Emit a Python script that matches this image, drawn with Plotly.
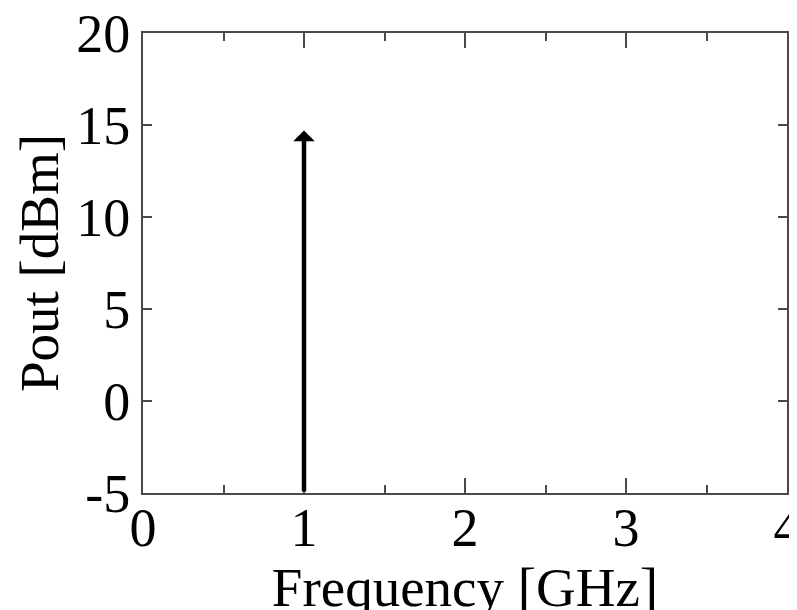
import plotly.graph_objects as go

# Data
freq_ghz = [1.0]          # tone frequency [GHz]
pout_dbm = [14.7]         # output power [dBm]
y_floor = -5              # baseline of the spectral line
x_ticks = [0, 1, 2, 3, 4]
y_ticks = [-5, 0, 5, 10, 15, 20]

FONT = "Liberation Serif, Times New Roman, serif"
AX = "#4a4a4a"

fig = go.Figure()

# invisible trace to establish axes
fig.add_trace(go.Scatter(x=freq_ghz, y=pout_dbm, mode="markers",
                         marker=dict(size=1, opacity=0), showlegend=False,
                         hoverinfo="skip"))

for f, p in zip(freq_ghz, pout_dbm):
    fig.add_annotation(x=f, y=p, ax=f, ay=y_floor, xref="x", yref="y",
                       axref="x", ayref="y", showarrow=True, text="",
                       arrowhead=1, arrowsize=0.8, arrowwidth=4.5,
                       arrowcolor="black")

fig.update_layout(
    width=797, height=610,
    margin=dict(l=135, r=18, t=25, b=125),
    paper_bgcolor="white", plot_bgcolor="white",
    font=dict(family=FONT, color="black"),
    showlegend=False,
)

fig.update_xaxes(
    range=[0, 4], tickvals=x_ticks, ticktext=[str(v) for v in x_ticks],
    ticks="inside", ticklen=15, tickwidth=2, tickcolor=AX,
    minor=dict(dtick=0.5, ticks="inside", ticklen=8, tickwidth=2, tickcolor=AX),
    showline=True, linecolor=AX, linewidth=2, mirror="allticks",
    showgrid=False, zeroline=False,
    tickfont=dict(size=54, family=FONT),
    ticklabelstandoff=-14, ticklabeloverflow="allow",
    title=dict(text="Frequency [GHz]", font=dict(size=55, family=FONT), standoff=4),
    automargin=False,
)
fig.update_yaxes(
    range=[-5, 20], tickvals=y_ticks, ticktext=[str(v) for v in y_ticks],
    ticks="inside", ticklen=9, tickwidth=2, tickcolor=AX,
    showline=True, linecolor=AX, linewidth=2, mirror="allticks",
    showgrid=False, zeroline=False,
    tickfont=dict(size=54, family=FONT), ticklabeloverflow="allow",
    title=dict(text="Pout [dBm]", font=dict(size=55, family=FONT), standoff=0),
    automargin=False,
)

fig.write_html("out.html")
